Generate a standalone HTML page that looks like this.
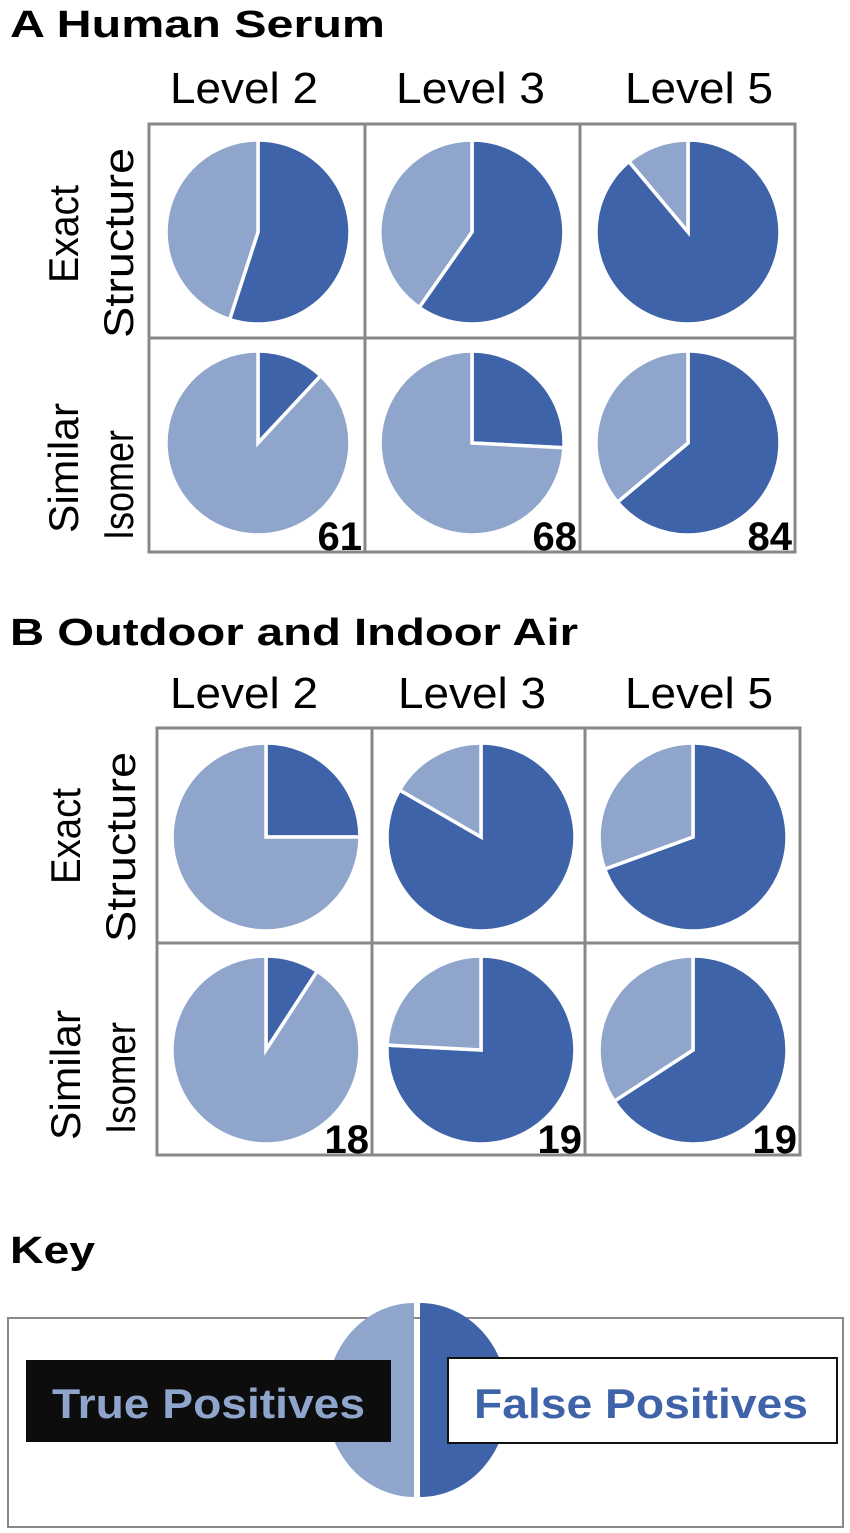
<!DOCTYPE html>
<html><head><meta charset="utf-8"><style>
body{margin:0;background:#fff;}
svg{display:block;font-family:"Liberation Sans",Arial,sans-serif;}
</style></head><body>
<svg id="s" width="850" height="1533" viewBox="0 0 850 1533" xmlns="http://www.w3.org/2000/svg">
<rect width="850" height="1533" fill="#fff"/>
<text x="10" y="37" font-size="38" font-weight="bold" textLength="375" lengthAdjust="spacingAndGlyphs">A  Human Serum</text>
<g font-size="44">
<text x="170" y="103" textLength="148" lengthAdjust="spacingAndGlyphs">Level 2</text>
<text x="396" y="103" textLength="149" lengthAdjust="spacingAndGlyphs">Level 3</text>
<text x="625" y="103" textLength="148" lengthAdjust="spacingAndGlyphs">Level 5</text>
</g>
<g fill="none" stroke="#888" stroke-width="3">
<rect x="149" y="124" width="646" height="428"/>
<line x1="365" y1="124" x2="365" y2="552"/><line x1="580" y1="124" x2="580" y2="552"/>
<line x1="149" y1="338" x2="795" y2="338"/>
</g>
<g font-size="42">
<text transform="translate(78,283) rotate(-90)" textLength="98" lengthAdjust="spacingAndGlyphs">Exact</text>
<text transform="translate(133,338) rotate(-90)" textLength="190" lengthAdjust="spacingAndGlyphs">Structure</text>
<text transform="translate(78,533) rotate(-90)" textLength="130" lengthAdjust="spacingAndGlyphs">Similar</text>
<text transform="translate(133,540) rotate(-90)" textLength="110" lengthAdjust="spacingAndGlyphs">Isomer</text>
</g>
<text x="10" y="645" font-size="38" font-weight="bold" textLength="568" lengthAdjust="spacingAndGlyphs">B  Outdoor and Indoor Air</text>
<g font-size="44">
<text x="170" y="708" textLength="148" lengthAdjust="spacingAndGlyphs">Level 2</text>
<text x="398" y="708" textLength="148" lengthAdjust="spacingAndGlyphs">Level 3</text>
<text x="625" y="708" textLength="148" lengthAdjust="spacingAndGlyphs">Level 5</text>
</g>
<g fill="none" stroke="#888" stroke-width="3">
<rect x="157" y="728" width="643" height="427"/>
<line x1="372" y1="728" x2="372" y2="1155"/><line x1="585" y1="728" x2="585" y2="1155"/>
<line x1="157" y1="943" x2="800" y2="943"/>
</g>
<g font-size="42">
<text transform="translate(80,884) rotate(-90)" textLength="96" lengthAdjust="spacingAndGlyphs">Exact</text>
<text transform="translate(135,942) rotate(-90)" textLength="190" lengthAdjust="spacingAndGlyphs">Structure</text>
<text transform="translate(80,1140) rotate(-90)" textLength="130" lengthAdjust="spacingAndGlyphs">Similar</text>
<text transform="translate(135,1134) rotate(-90)" textLength="112" lengthAdjust="spacingAndGlyphs">Isomer</text>
</g>
<g id="pies"></g>
<g font-size="40" font-weight="bold" text-anchor="end">
<text x="362" y="550">61</text><text x="577" y="550">68</text><text x="792" y="550">84</text>
<text x="369" y="1153">18</text><text x="582" y="1153">19</text><text x="797" y="1153">19</text>
</g>
<text x="10" y="1263" font-size="38" font-weight="bold" textLength="85" lengthAdjust="spacingAndGlyphs">Key</text>
<rect x="8" y="1318" width="835" height="209" fill="none" stroke="#888" stroke-width="2"/>
<path d="M414,1303 A88,97 0 0,0 414,1497 Z" fill="#8fa5cc"/>
<path d="M420,1303 A88,97 0 0,1 420,1497 Z" fill="#3f63a8"/>
<rect x="26" y="1360" width="365" height="82" fill="#0d0d0d"/>
<text x="52" y="1418" font-size="42" font-weight="bold" fill="#8fa5cc" textLength="313" lengthAdjust="spacingAndGlyphs">True Positives</text>
<rect x="448" y="1358" width="389" height="85" fill="#fff" stroke="#111" stroke-width="2"/>
<text x="474" y="1418" font-size="42" font-weight="bold" fill="#3f63a8" textLength="334" lengthAdjust="spacingAndGlyphs">False Positives</text>
</svg>
<script>
var pies=[[258,232,92,198],[472,232,92,215],[688,232,92,320],[258,443,92,43],[472,443,92,93],[688,443,92,230],
[266,837,94,90],[481,837,94,300],[693,837,94,250],[266,1050,94,33],[481,1050,94,273],[693,1050,94,237]];
var g=document.getElementById('pies'),h='';
function pt(cx,cy,r,a){a=a*Math.PI/180;return (cx+r*Math.sin(a)).toFixed(1)+','+(cy-r*Math.cos(a)).toFixed(1);}
function sl(cx,cy,r,a0,a1,c){var l=(a1-a0)>180?1:0;return '<path d="M'+cx+','+cy+' L'+pt(cx,cy,r,a0)+' A'+r+','+r+' 0 '+l+',1 '+pt(cx,cy,r,a1)+' Z" fill="'+c+'" stroke="#fff" stroke-width="3.5" stroke-linejoin="miter"/>';}
pies.forEach(function(p){h+=sl(p[0],p[1],p[2],0,p[3],'#3f63a8')+sl(p[0],p[1],p[2],p[3],360,'#8fa5cc');});
g.innerHTML=h;
</script>
</body></html>
